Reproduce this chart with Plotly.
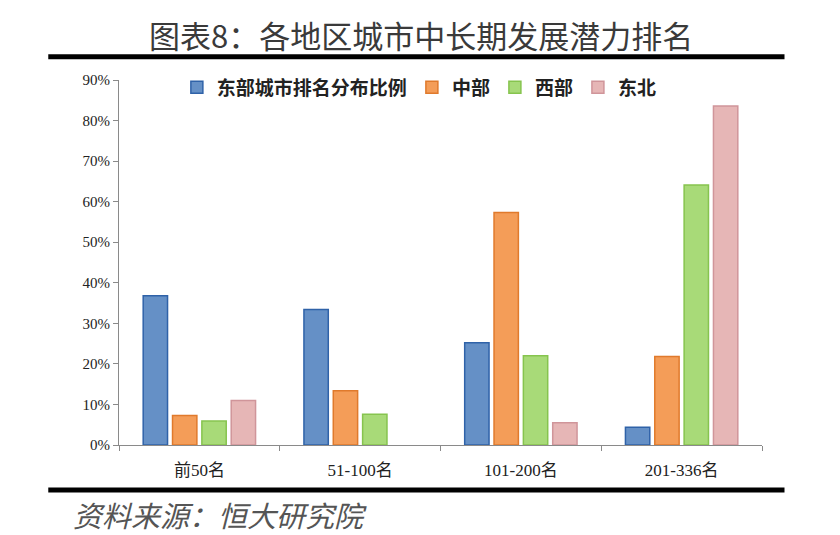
import plotly.graph_objects as go

categories = ["前50名", "51-100名", "101-200名", "201-336名"]
series_names = ["东部城市排名分布比例", "中部", "西部", "东北"]
east = [0.368, 0.334, 0.252, 0.044]
central = [0.073, 0.134, 0.573, 0.218]
west = [0.059, 0.076, 0.220, 0.641]
northeast = [0.110, 0.0, 0.055, 0.836]
fill_colors = ["#6590C6", "#F49D58", "#A8DA78", "#E6B6B6"]
line_colors = ["#2F62A8", "#E07A2C", "#86C44E", "#D0959A"]

title_text = "图表8：各地区城市中长期发展潜力排名"
source_text = "资料来源：恒大研究院"
y_ticks = [0.0, 0.1, 0.2, 0.3, 0.4, 0.5, 0.6, 0.7, 0.8, 0.9]

fig = go.Figure()
for name, vals, fc, lc in zip(series_names, [east, central, west, northeast], fill_colors, line_colors):
    fig.add_trace(go.Bar(
        x=categories, y=vals, name=name,
        marker=dict(color=fc, line=dict(color=lc, width=[1.5 if v > 0 else 0 for v in vals])),
    ))

fig.update_layout(
    width=840, height=535,
    margin=dict(l=119, r=78, t=80, b=90),
    paper_bgcolor="white", plot_bgcolor="white",
    barmode="group", bargap=0.27, bargroupgap=0.17,
    showlegend=True,
    legend=dict(
        orientation="h", x=0.09, y=0.98, xanchor="left", yanchor="middle",
        font=dict(family="Noto Sans CJK SC", size=19, color="#222", weight="bold"),
        itemwidth=30, tracegroupgap=0, bgcolor="rgba(0,0,0,0)",
    ),
    xaxis=dict(
        showline=True, linecolor="#8a8a8a", linewidth=1,
        ticks="outside", tickson="boundaries", ticklen=5, tickcolor="#8a8a8a",
        tickfont=dict(family="Liberation Serif, Noto Sans CJK SC", size=17, color="#222"),
        ticklabelstandoff=10,
        showgrid=False,
    ),
    yaxis=dict(
        range=[0, 0.9], tickvals=y_ticks, tickformat=".0%",
        showline=True, linecolor="#8a8a8a", linewidth=1,
        ticks="outside", ticklen=5, tickcolor="#8a8a8a",
        tickfont=dict(family="Liberation Serif", size=15, color="#222"),
        showgrid=False, zeroline=False,
    ),
)

fig.add_annotation(
    text=title_text, xref="paper", yref="paper", x=0.47, y=1.0, yshift=46,
    xanchor="center", yanchor="middle", showarrow=False,
    font=dict(family="Noto Sans CJK SC", size=31, color="#3a3a3a"),
)
fig.add_annotation(
    text="<i>" + source_text + "</i>", xref="paper", yref="paper", x=-0.075, y=0, yshift=-69,
    xanchor="left", yanchor="middle", showarrow=False,
    font=dict(family="Noto Sans CJK SC", size=29, color="#555"),
)
# decorative rules under the title and above the source
fig.add_shape(type="line", xref="paper", yref="paper", x0=-0.11, x1=1.035, y0=1.064, y1=1.064,
              line=dict(color="black", width=5))
fig.add_shape(type="line", xref="paper", yref="paper", x0=-0.11, x1=1.035, y0=-0.123, y1=-0.123,
              line=dict(color="black", width=5))

fig.write_html("out.html")
